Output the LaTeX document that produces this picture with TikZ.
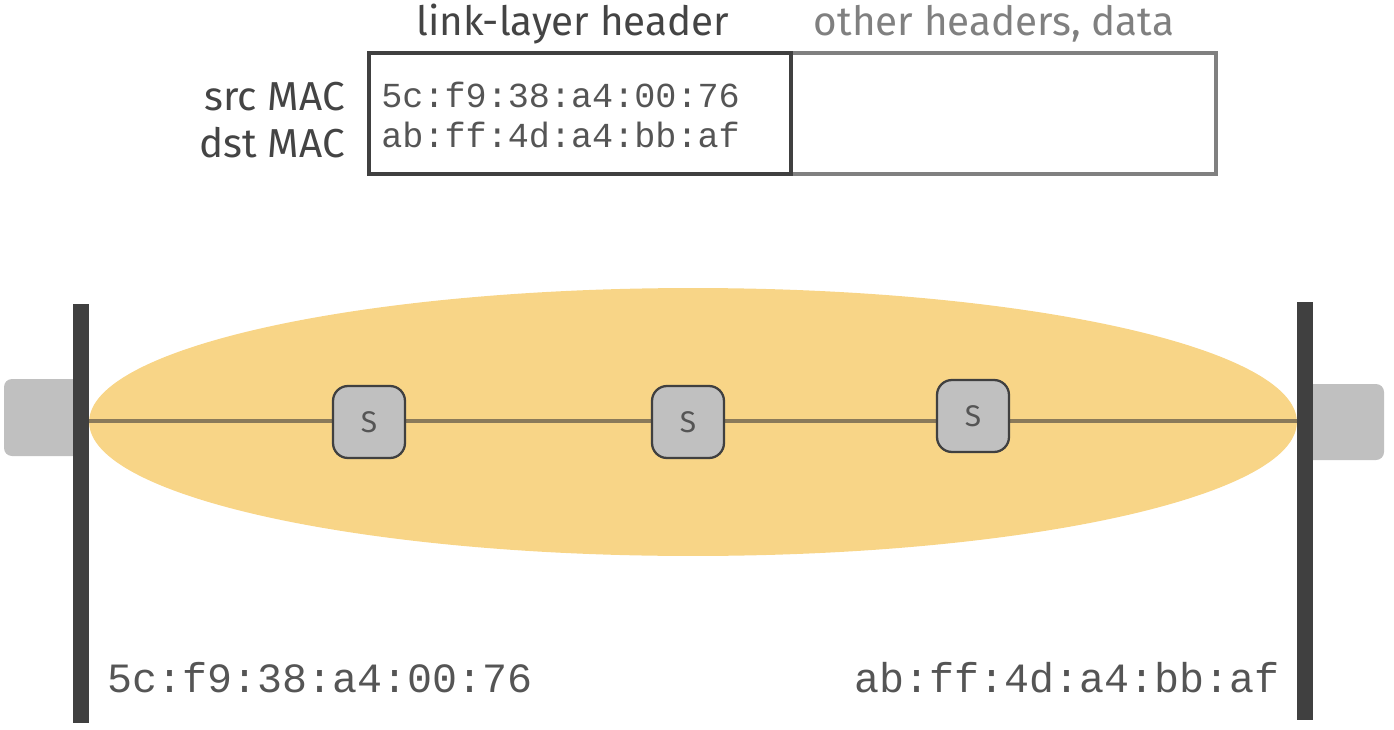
\documentclass[tikz,border=0pt]{standalone}
\usepackage{fontspec}
\setmainfont{Fira Sans}
\setmonofont{Liberation Mono}
\usetikzlibrary{positioning}
\definecolor{bargray}{HTML}{404040}
\definecolor{tabgray}{HTML}{C0C0C0}
\definecolor{lanyellow}{HTML}{F8D587}
\definecolor{wiregray}{HTML}{8A7A5A}
\definecolor{txtgray}{HTML}{444444}
\definecolor{mactxt}{HTML}{555555}
\tikzset{
	bar/.style={fill=bargray, minimum width=0.32cm, inner sep=0pt},
	tab/.style={fill=tabgray, rounded corners=0.16cm},
	switch/.style={draw=bargray, fill=tabgray, line width=1.3pt, rounded corners=0.3cm,
		minimum size=1.44cm, inner sep=0pt, text=mactxt, font=\fontsize{17}{19}\selectfont},
	hdrbox/.style={minimum height=2.42cm, inner sep=0pt, line width=2.2pt},
	mac/.style={font=\ttfamily\fontsize{20}{22}\selectfont, text=mactxt, inner sep=0pt},
	bigmac/.style={font=\ttfamily\fontsize{23.7}{26}\selectfont, text=mactxt, inner sep=0pt},
	lbl/.style={font=\fontsize{23}{26}\selectfont, text=txtgray, inner sep=0pt}
}
\begin{document}
\begin{tikzpicture}[x=0.02cm,y=-0.02cm]
	\useasboundingbox (0,0) rectangle (1394,730);
	% frame
	\node[hdrbox, draw=gray, minimum width=8.5cm] (ohdr) at (1003.5,113.5) {};
	\node[hdrbox, draw=bargray, minimum width=8.44cm] (lhdr) at (580,113.5) {};
	\node[lbl] (lhdrlbl) at (573,24) {link-layer header};
	\node[lbl, text=gray] (ohdrlbl) at (994,24) {other headers, data};
	\node[mac, anchor=west] (srcaddr) at (381,95) {5c:f9:38:a4:00:76};
	\node[mac, anchor=west] (dstaddr) at (381,135) {ab:ff:4d:a4:bb:af};
	\node[lbl, anchor=east] (srclbl) at (345,97) {src MAC};
	\node[lbl, anchor=east] (dstlbl) at (345,143) {dst MAC};
	% hosts and switched LAN
	\fill[tab] (4,379) rectangle (81,456);
	\fill[tab] (1305,384) rectangle (1384,460);
	\fill[lanyellow] (693,422) ellipse [x radius=12.08cm, y radius=2.68cm];
	\node[bar, minimum height=8.38cm] (hostL) at (81,513.5) {};
	\node[bar, minimum height=8.36cm] (hostR) at (1305,511) {};
	\coordinate (wireL) at (89,421);
	\coordinate (wireR) at (1297,421);
	\draw[wiregray, line width=1.8pt] (wireL) -- (wireR);
	\node[switch] (s1) at (369,422) {S};
	\node[switch] (s2) at (688,422) {S};
	\node[switch] (s3) at (973,416) {S};
	\node[bigmac, anchor=west] (hostLaddr) at (107,678) {5c:f9:38:a4:00:76};
	\node[bigmac, anchor=east] (hostRaddr) at (1280,678) {ab:ff:4d:a4:bb:af};
\end{tikzpicture}
\end{document}
